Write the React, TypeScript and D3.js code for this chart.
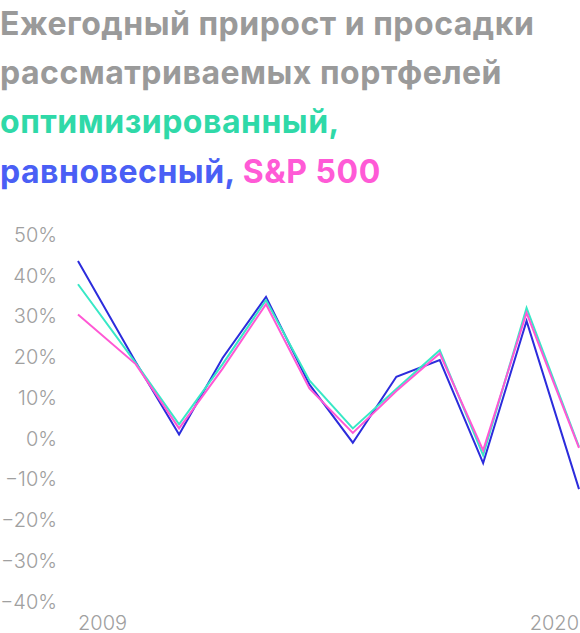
import React, { useRef, useEffect } from 'react';
import * as d3 from 'd3';

// point dates as they sit on the time axis
const dates = [
  '2009-01-01', '2010-05-01', '2011-05-01', '2012-05-01', '2013-05-01', '2014-05-01',
  '2015-05-01', '2016-05-01', '2017-05-01', '2018-05-01', '2019-05-01', '2020-07-15'
];

const optimized = [37.9, 18.6, 3.5, 18.3, 34.0, 14.3, 2.5, 12.2, 21.7, -4.1, 32.1, -2.0];
const balanced = [43.6, 18.8, 1.0, 19.8, 34.8, 13.3, -1.0, 15.2, 19.3, -6.0, 28.9, -12.4];
const sp500 = [30.5, 18.3, 2.5, 17.2, 33.0, 12.3, 1.4, 11.7, 20.9, -2.9, 30.9, -2.3];

const yTicks = [50, 40, 30, 20, 10, 0, -10, -20, -30, -40];
const xLabels = ['2009', '2020'];

const titleLines = [
  [{ text: 'Ежегодный прирост и просадки', color: '#9a9a9a' }],
  [{ text: 'рассматриваемых портфелей', color: '#9a9a9a' }],
  [{ text: 'оптимизированный,', color: '#2fd9a8' }],
  [
    { text: 'равновесный, ', color: '#4a5ff5' },
    { text: 'S&P 500', color: '#ff5ad6' }
  ]
];

const WIDTH = 580;
const HEIGHT = 633;
const FONT = 'Inter, Roboto, sans-serif';

export default function App() {
  const svgRef = useRef<SVGSVGElement>(null);

  useEffect(() => {
    if (!svgRef.current) return;
    const svg = d3.select(svgRef.current);
    svg.selectAll('*').remove();

    const parse = d3.timeParse('%Y-%m-%d');
    const xs = dates.map(d => parse(d) as Date);

    const x = d3.scaleTime()
      .domain([xs[0], xs[xs.length - 1]])
      .range([78, 579]);
    const y = d3.scaleLinear()
      .domain([-40, 50])
      .range([601.5, 235]);

    // Title
    const title = svg.append('text')
      .attr('font-family', FONT)
      .attr('font-weight', 700)
      .attr('font-size', '32px')
      .attr('letter-spacing', '0.5px');
    titleLines.forEach((line, i) => {
      const t = title.append('tspan')
        .attr('x', 0)
        .attr('y', 35 + i * 49.2);
      line.forEach(part => {
        t.append('tspan').attr('fill', part.color).text(part.text);
      });
    });

    // Y axis labels
    svg.append('g')
      .selectAll('text')
      .data(yTicks)
      .enter()
      .append('text')
      .attr('x', 57)
      .attr('y', d => y(d))
      .attr('dy', '0.35em')
      .attr('text-anchor', 'end')
      .attr('font-family', FONT)
      .attr('font-weight', 300)
      .attr('font-size', '20px')
      .attr('fill', '#a0a0a0')
      .text(d => `${d < 0 ? '−' : ''}${Math.abs(d)}%`);

    // X labels
    svg.append('text')
      .attr('x', x(xs[0]))
      .attr('y', 630)
      .attr('text-anchor', 'start')
      .attr('font-family', FONT)
      .attr('font-weight', 300)
      .attr('font-size', '20px')
      .attr('fill', '#a0a0a0')
      .text(xLabels[0]);
    svg.append('text')
      .attr('x', x(xs[xs.length - 1]))
      .attr('y', 630)
      .attr('text-anchor', 'end')
      .attr('font-family', FONT)
      .attr('font-weight', 300)
      .attr('font-size', '20px')
      .attr('fill', '#a0a0a0')
      .text(xLabels[1]);

    const line = d3.line<number>()
      .x((_, i) => x(xs[i]))
      .y(d => y(d));

    const series = [
      { values: balanced, color: '#2c2cdc' },
      { values: optimized, color: '#38e8c6' },
      { values: sp500, color: '#ff58d4' }
    ];

    svg.append('g')
      .selectAll('path')
      .data(series)
      .enter()
      .append('path')
      .attr('d', d => line(d.values))
      .attr('fill', 'none')
      .attr('stroke', d => d.color)
      .attr('stroke-width', 2)
      .attr('stroke-linejoin', 'miter');
  }, []);

  return (
    <svg
      ref={svgRef}
      width={WIDTH}
      height={HEIGHT}
      style={{ position: 'absolute', left: 0, top: 0, background: '#fff' }}
    />
  );
}
